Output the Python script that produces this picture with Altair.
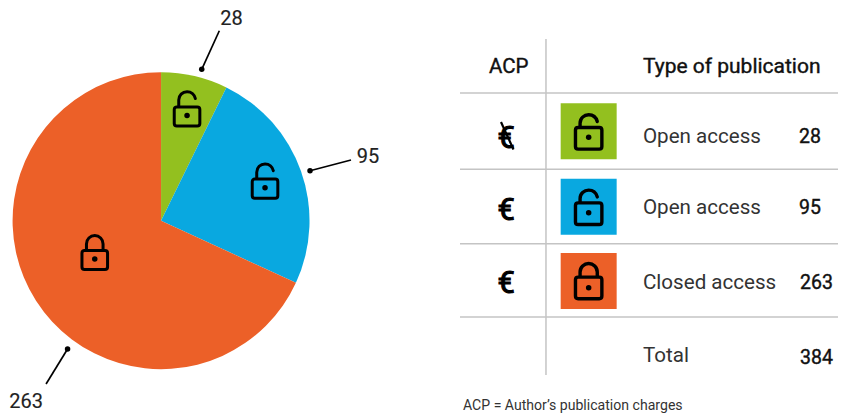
import altair as alt
import pandas as pd

# ---- values ----
access_labels = ["Open access", "Open access", "Closed access"]
counts = [28, 95, 263]
total_label = "Total"
total_value = 384
header_acp = "ACP"
header_type = "Type of publication"
footnote = "ACP = Author\u2019s publication charges"
slice_keys = ["free", "paid", "closed"]
palette = ["#93C01F", "#09A8E0", "#EC6028"]

FONT = "Roboto"
W, H = 838, 410
K = 846 / (W + 16)  # the page (chart + 16px margins) is fitted to the 846-wide picture
DY = -2.0
def X(v): return alt.value(v / K - 8)
def Y(v): return alt.value((v + DY) / K - 8)

layers = []

def text(s, x, y, size=20, align="left", color="#222222", bold=0.0):
    kw = dict(stroke=color, strokeWidth=bold) if bold else {}
    layers.append(
        alt.Chart(pd.DataFrame({"t": [str(s)]}))
        .mark_text(font=FONT, fontSize=size / K, align=align,
                   baseline="alphabetic", color=color, **kw)
        .encode(text="t:N", x=X(x), y=Y(y))
    )

def rule(x1, y1, x2, y2, color="#c4c4c4", w=1.5):
    layers.append(
        alt.Chart(pd.DataFrame({"a": [0]}))
        .mark_rule(color=color, strokeWidth=w / K)
        .encode(x=X(x1), x2=X(x2), y=Y(y1), y2=Y(y2))
    )

def dot(x, y, r=3.1):
    r = r / K
    layers.append(
        alt.Chart(pd.DataFrame({"a": [0]}))
        .mark_point(shape="circle", filled=True, color="black", opacity=1,
                    size=3.1416 * r * r)
        .encode(x=X(x), y=Y(y))
    )

S = 20.0
def P(*pts):
    return " ".join(str(round(p / S, 4)) if isinstance(p, (int, float)) else p for p in pts)

def lock_path(hw, top, bot, sh, arc_top, closed):
    c = 2.6
    body = P("M", -hw + c, top, "L", hw - c, top, "C", hw - 1, top, hw, top + 1, hw, top + c,
             "L", hw, bot - c, "C", hw, bot - 1, hw - 1, bot, hw - c, bot,
             "L", -hw + c, bot, "C", -hw + 1, bot, -hw, bot - 1, -hw, bot - c,
             "L", -hw, top + c, "C", -hw, top + 1, -hw + 1, top, -hw + c, top, "Z")
    spring = arc_top + sh
    left = P("M", -sh, top, "L", -sh, spring, "C", -sh, arc_top + 3.6, -4.6, arc_top, 0, arc_top)
    if closed:
        right = P("C", 4.6, arc_top, sh, arc_top + 3.6, sh, spring, "L", sh, top)
    else:
        right = P("C", 4.2, arc_top, 7.5, arc_top + 2.8, sh, arc_top + 6.8)
    return body + " " + left + " " + right

PIE_OPEN = lock_path(12.8, -8.6, 10.6, 8.3, -23.8, False)
PIE_CLOSED = lock_path(12.8, -8.6, 10.6, 8.3, -23.4, True)
TAB_OPEN = lock_path(13.2, -9.8, 11.8, 8.6, -22.6, False)
TAB_CLOSED = lock_path(13.2, -10.6, 11.0, 8.6, -24.2, True)

def lock(x, y, path, sw=3.0):
    layers.append(
        alt.Chart(pd.DataFrame({"a": [0]}))
        .mark_point(shape=path, filled=False, color="black", opacity=1,
                    strokeWidth=sw / K, size=(2 * S / K) ** 2, strokeJoin="round", strokeCap="round")
        .encode(x=X(x), y=Y(y))
    )
    dot(x, y, 3.1)

# ---- pie ----
pie = pd.DataFrame({"k": slice_keys, "n": counts, "o": [0, 1, 2]})
layers.append(
    alt.Chart(pie)
    .mark_arc(outerRadius=148.5 / K, innerRadius=0)
    .encode(
        theta=alt.Theta("n:Q", stack=True),
        order=alt.Order("o:Q"),
        color=alt.Color("k:N", legend=None,
                        scale=alt.Scale(domain=slice_keys, range=palette)),
        x=X(161), y=Y(220.7),
    )
)
lock(187, 115.5, PIE_OPEN)
lock(265, 187.7, PIE_OPEN)
lock(94.7, 259, PIE_CLOSED)

# leader lines and pie labels
rule(219.3, 30.7, 201.7, 69.3, color="black", w=1.7); dot(201.7, 69.3)
rule(351, 160, 310, 170.7, color="black", w=1.7); dot(310, 170.7)
rule(67.5, 349, 46, 384, color="black", w=1.7); dot(67.5, 349)
text(counts[0], 231.5, 25, size=20, align="center", bold=0.15)
text(counts[1], 368, 163, size=20, align="center", bold=0.15)
text(counts[2], 26, 408, size=20, align="center", bold=0.15)

# ---- table ----
rule(546, 39, 546, 375)
for yy in [93, 169.3, 243.7, 317]:
    rule(460, yy, 846, yy)
text(header_acp, 489, 73, size=20.5, color="#111111", bold=0.4)
text(header_type, 643, 73, size=21, color="#111111", bold=0.4)

row_square = [131.3, 206.7, 281]
row_dot = [137.3, 212.7, 287.7]
row_text = [143.3, 214.3, 289]
row_num_x = [821, 821, 833]
row_euro = [147.7, 220, 293]
for i in range(3):
    layers.append(
        alt.Chart(pd.DataFrame({"a": [0]}))
        .mark_point(shape="square", filled=True, color=palette[i], opacity=1, size=(56 / K) ** 2)
        .encode(x=X(588.7), y=Y(row_square[i]))
    )
    lock(588.7, row_dot[i], TAB_CLOSED if i == 2 else TAB_OPEN, sw=3.4)
    text(access_labels[i], 643, row_text[i], size=20.6, color="#333333")
    text(counts[i], row_num_x[i], row_text[i], size=19.5, align="right", color="#111111", bold=0.4)
    text("\u20ac", 506.3, row_euro[i], size=31, align="center", color="black", bold=1.0)
# stroke through the first euro sign
rule(501, 122, 513.5, 149.5, color="black", w=2.2)
text(total_label, 643, 362, size=20.6, color="#333333")
text(total_value, 833, 364, size=19.5, align="right", color="#111111", bold=0.4)
text(footnote, 463, 410, size=14.1, color="#333333")

chart = (
    alt.layer(*layers)
    .properties(width=W, height=H, padding=0, autosize=alt.AutoSizeParams(type="none"))
    .configure_view(stroke=None)
)
chart.save("out.html", embed_options={"renderer": "svg", "actions": False})
